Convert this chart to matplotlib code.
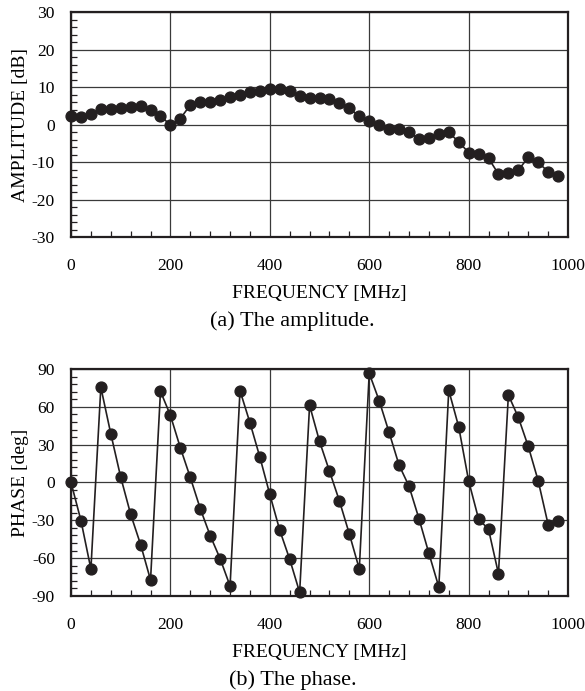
import matplotlib
matplotlib.use("Agg")
import matplotlib.pyplot as plt
import numpy as np
from matplotlib.ticker import MultipleLocator

plt.rcParams.update({"font.family": ["Liberation Serif", "DejaVu Serif"],
                     "axes.unicode_minus": False, "font.size": 14})

freq = np.arange(0, 1000, 20)
amplitude = [2.4, 2.1, 2.8, 4.1, 4.2, 4.3, 4.8, 5.0, 3.8, 2.4,
             -0.2, 1.6, 5.2, 6.0, 6.0, 6.6, 7.4, 8.0, 8.6, 9.0,
             9.4, 9.5, 8.9, 7.7, 7.2, 7.0, 6.7, 5.8, 4.3, 2.2,
             0.9, 0.0, -1.2, -1.1, -1.9, -3.9, -3.7, -2.5, -2.1, -4.6,
             -7.5, -7.8, -9.0, -13.2, -12.9, -12.2, -8.7, -10.1, -12.6, -13.8]
phase = [0, -30.2, -68.6, 75.5, 38.7, 4.2, -25.2, -49.2, -77.3, 72.3,
         53.2, 27.5, 4.0, -20.7, -42.1, -60.4, -82.1, 72.8, 47.4, 20.1,
         -9.5, -37.9, -60.9, -87.1, 61.2, 32.6, 9.0, -14.6, -40.8, -68.6,
         86.6, 64.9, 39.7, 13.8, -2.9, -28.6, -56.1, -82.9, 73.1, 44.2,
         1.3, -28.9, -37.1, -72.3, 69.4, 51.6, 28.6, 1.3, -33.4, -30.4]

INK = "#231f20"
fig = plt.figure(figsize=(5.85, 6.91), dpi=100)
ax1 = fig.add_axes([0.1214, 0.657, 0.8496, 0.3256])
ax2 = fig.add_axes([0.1214, 0.1375, 0.8496, 0.3285])


def style(ax, y, ylim, major, minor, ylabel):
    ax.plot(freq, y, "-o", color=INK, lw=1.2, ms=7.8, zorder=3, clip_on=False)
    ax.set_xlim(0, 1000)
    ax.set_ylim(*ylim)
    ax.xaxis.set_major_locator(MultipleLocator(200))
    ax.xaxis.set_minor_locator(MultipleLocator(40))
    ax.yaxis.set_major_locator(MultipleLocator(major))
    ax.yaxis.set_minor_locator(MultipleLocator(minor))
    ax.grid(True, which="major", color="#3a3a3a", lw=0.9)
    ax.tick_params(which="both", direction="in", top=False, right=False,
                   colors=INK, labelcolor="black")
    ax.tick_params(which="major", length=0, labelsize=12.6)
    ax.tick_params(axis="x", which="major", pad=15)
    ax.tick_params(axis="y", which="major", pad=11.5)
    ax.tick_params(which="minor", length=4, width=0.9)
    for s in ax.spines.values():
        s.set_linewidth(1.6)
        s.set_color(INK)
    ax.set_xlabel("FREQUENCY [MHz]", fontsize=14, labelpad=8)
    ax.set_ylabel(ylabel, fontsize=14, labelpad=2)


style(ax1, amplitude, (-30, 30), 10, 2, "AMPLITUDE [dB]")
style(ax2, phase, (-90, 90), 30, 6, "PHASE [deg]")

fig.text(0.5, 1 - 321 / 691, "(a) The amplitude.", ha="center", va="center", fontsize=16)
fig.text(0.5, 1 - 680 / 691, "(b) The phase.", ha="center", va="center", fontsize=16)

fig.savefig("out.png", facecolor="white")
